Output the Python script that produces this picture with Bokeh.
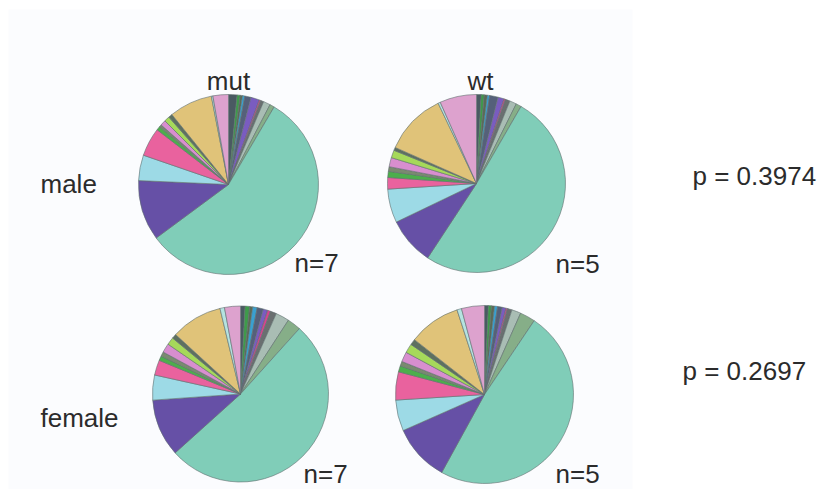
import math
from bokeh.plotting import figure
from bokeh.models import Range1d, ColumnDataSource
from bokeh.core.properties import value
from bokeh.embed import file_html
from bokeh.resources import INLINE

# ---- data (relative abundance per category; clockwise from 12 o'clock) ----
categories = ["c1", "c2", "c3", "c4", "c5", "c6", "c7", "c8", "c9", "c10",
              "c11", "c12", "c13", "c14", "c15", "c16", "c17", "c18", "c19",
              "c20", "c21", "c22"]
colors = ["#4A5A62", "#3E9B4A", "#5B6B55", "#3AA0D0", "#55607A", "#7A5CC0",
          "#D6458F", "#6A6F70", "#A9BDB4", "#86AE88",
          "#80CDB8", "#6650A6", "#9DDAE6", "#E9629E", "#4CAE4C", "#7A8A70",
          "#D88ECF", "#A6D95A", "#5E7060", "#E0C379", "#B5E3E0", "#DDA2CE"]

male_mut = [5.5, 2, 1.5, 1.5, 4, 5.5, 1, 2, 4.5, 3,
            203, 39, 16.5, 18.5, 2.5, 1.5, 3.5, 3.5, 2.5, 28, 1, 10]
male_wt = [3, 2, 2, 1.5, 5.5, 4, 1, 3, 4.5, 3.5,
           183, 31, 22, 7.5, 4, 3, 6, 5, 2, 40.5, 1.5, 24]
female_mut = [3, 3, 2, 3, 4, 3, 2, 4, 9, 9,
              186, 38, 16.5, 10, 3, 3, 6, 5, 3, 34, 3, 10.5]
female_wt = [2.5, 2, 2, 2, 3, 2.5, 1, 3, 6, 10,
             175, 37.4, 20.3, 18.4, 4, 3, 6.5, 6, 3.8, 34, 3, 15]

col_labels = ["mut", "wt"]
row_labels = ["male", "female"]
n_labels = ["n=7", "n=5"]
p_labels = ["p = 0.3974", "p = 0.2697"]

# ---- layout ----
W, H = 822, 489
p = figure(width=W, height=H, output_backend="svg", toolbar_location=None,
           x_range=Range1d(0, W), y_range=Range1d(0, H), min_border=0)
p.axis.visible = False
p.grid.visible = False
p.outline_line_color = None
p.background_fill_color = "white"
p.border_fill_color = "white"

# faint panel
p.quad(left=[8], right=[632], bottom=[-5], top=[480], fill_color="#FBFCFE", line_color=None)

FONT = value("Liberation Sans")
TXT = "#2b2b2b"
FS = "26px"

pies = [(male_mut, 228, 305, 90), (male_wt, 476, 306, 89),
        (female_mut, 240, 95.5, 88), (female_wt, 484, 95, 89)]

for vals, cx, cy, r in pies:
    total = float(sum(vals))
    starts, ends = [], []
    acc = 0.0
    for v in vals:
        a0 = acc / total * 360.0
        acc += v
        a1 = acc / total * 360.0
        starts.append(math.radians(90 - a1))
        ends.append(math.radians(90 - a0))
    src = ColumnDataSource(dict(start=starts, end=ends, color=colors, cat=categories))
    p.wedge(x=cx, y=cy, radius=r, start_angle="start", end_angle="end",
            fill_color="color", line_color="#5F6E6E", line_width=0.6, source=src)

# column headers
p.text(x=[228, 480], y=[409, 409], text=col_labels, text_font=FONT, text_font_size=FS,
       text_align="center", text_baseline="middle", text_color=TXT)
# row labels
p.text(x=[40, 40], y=[306, 72], text=row_labels, text_font=FONT, text_font_size=FS,
       text_align="left", text_baseline="middle", text_color=TXT)
# n labels
p.text(x=[294, 555, 303, 555], y=[227, 226, 16, 16], text=n_labels + n_labels,
       text_font=FONT, text_font_size=FS, text_align="left",
       text_baseline="alphabetic", text_color=TXT)
# p values
p.text(x=[692, 682], y=[314, 119], text=p_labels, text_font=FONT, text_font_size=FS,
       text_align="left", text_baseline="middle", text_color=TXT)

open("out.html", "w").write(file_html(p, INLINE))
